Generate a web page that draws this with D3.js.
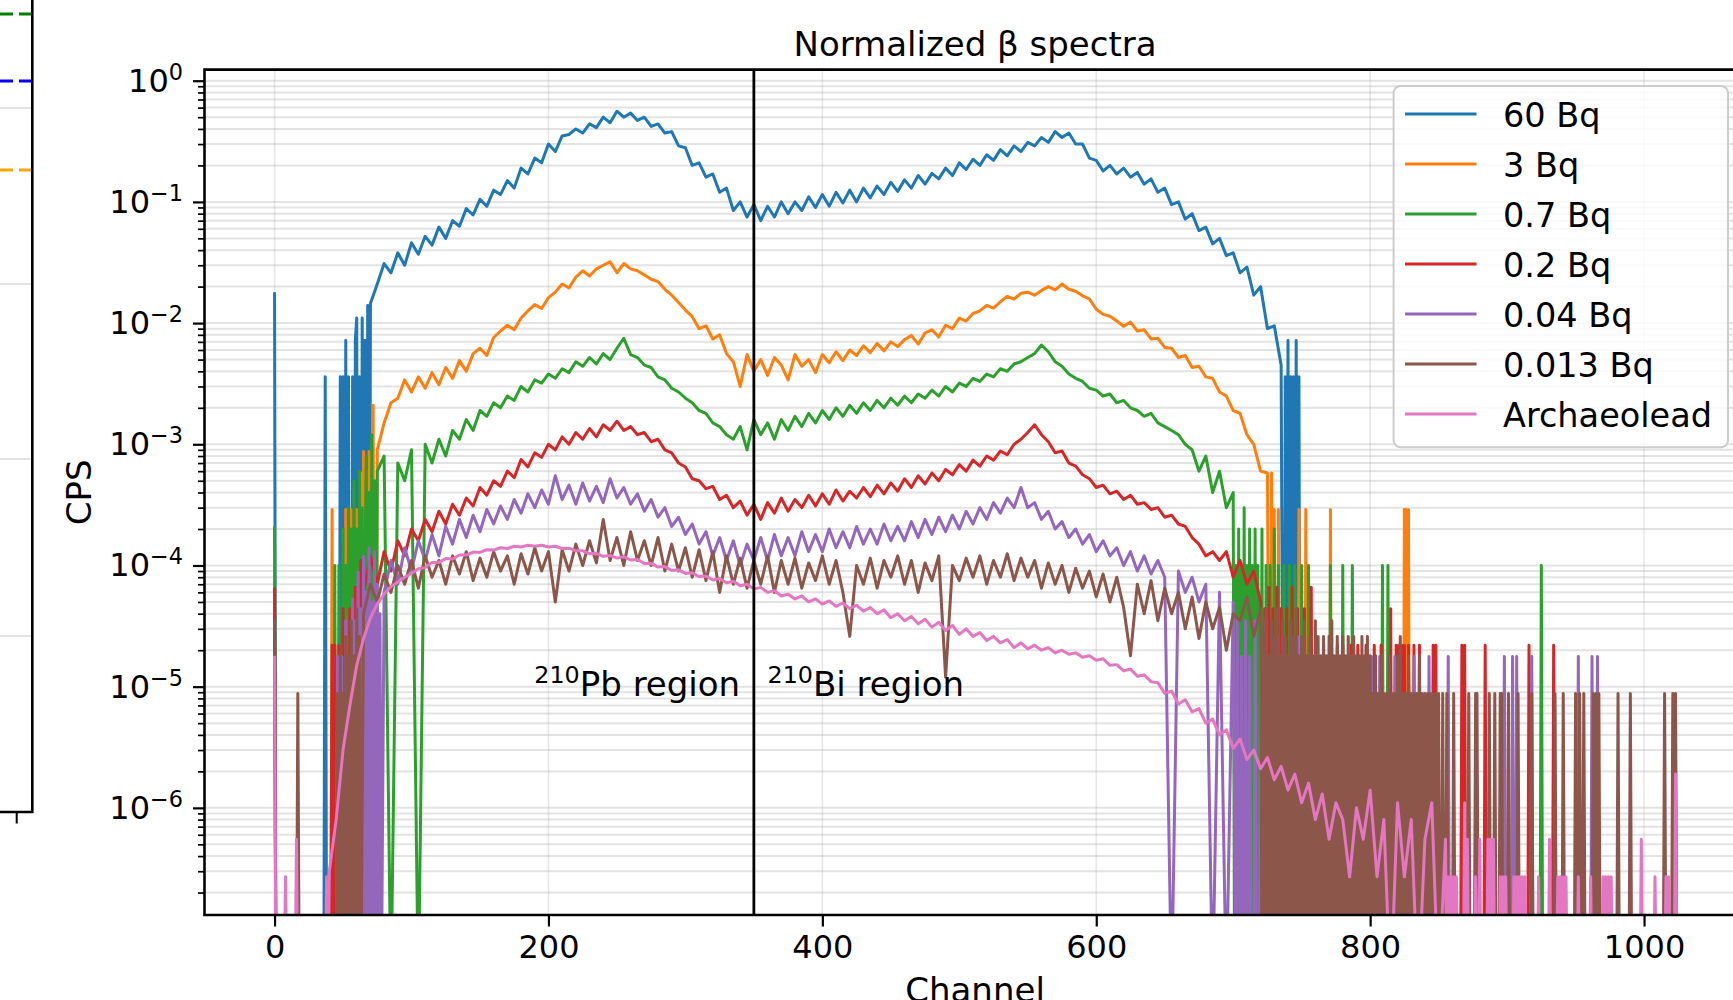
<!DOCTYPE html>
<html>
<head>
<meta charset="utf-8">
<script src="https://d3js.org/d3.v7.min.js"></script>
<style>
  body { margin: 0; background: #fff; }
  text { font-family: "DejaVu Sans", sans-serif; fill: #000; }
</style>
</head>
<body>
<svg width="1733" height="1000"></svg>
<script>
// ---- data (CPS), bodies sampled every 5 channels, spikes = isolated channels ----
const channelStep = 5;
const labels = ["60 Bq", "3 Bq", "0.7 Bq", "0.2 Bq", "0.04 Bq", "0.013 Bq", "Archaeolead"];
const xTicks = [0, 200, 400, 600, 800, 1000];
const yDecades = [1e0, 1e-1, 1e-2, 1e-3, 1e-4, 1e-5, 1e-6];
const regionLine = 350;

const bq60Start = 70;
const bq60Body = [
  0.0145,0.021,0.031,0.026,0.038,0.03,0.046,0.037,0.052,0.044,
  0.062,0.05,0.07,0.063,0.088,0.078,0.105,0.092,0.125,0.115,
  0.15,0.13,0.19,0.17,0.23,0.21,0.3,0.26,0.35,0.36,
  0.4,0.37,0.44,0.41,0.5,0.45,0.56,0.5,0.54,0.47,
  0.5,0.42,0.44,0.37,0.38,0.29,0.28,0.2,0.21,0.16,
  0.17,0.12,0.13,0.085,0.1,0.075,0.095,0.07,0.092,0.075,
  0.1,0.08,0.1,0.085,0.11,0.09,0.115,0.092,0.12,0.098,
  0.125,0.1,0.13,0.108,0.135,0.115,0.145,0.122,0.152,0.13,
  0.165,0.14,0.172,0.155,0.19,0.165,0.21,0.185,0.225,0.2,
  0.245,0.22,0.27,0.24,0.29,0.26,0.31,0.29,0.34,0.31,
  0.38,0.34,0.37,0.3,0.3,0.23,0.22,0.18,0.2,0.17,
  0.19,0.16,0.175,0.14,0.155,0.12,0.13,0.095,0.1,0.072,
  0.08,0.058,0.062,0.045,0.05,0.036,0.038,0.026,0.029,0.017,
  0.02,0.009,0.0095,0.0045
];
const bq60Spikes = [[0,0.018],[37,0.0036],[48,0.0036],[50,0.0036],[52,0.0072],[54,0.0036],[57,0.0036],
  [59,0.0072],[60,0.011],[62,0.0036],[64,0.011],[66,0.0072],[68,0.014],
  [738,0.0036],[740,0.0072],[742,0.0036],[744,0.0036],[746,0.0072],[748,0.0036]];

const bq3Start = 75;
const bq3Body = [
  0.0009,0.0015,0.0022,0.0024,0.0034,0.0027,0.0036,0.0029,0.0039,0.0031,
  0.0043,0.0035,0.0049,0.004,0.0056,0.0062,0.0054,0.0076,0.0086,0.0096,
  0.0088,0.011,0.0126,0.0142,0.0132,0.0162,0.018,0.021,0.0195,0.024,
  0.027,0.0245,0.028,0.03,0.032,0.026,0.031,0.028,0.027,0.025,
  0.023,0.022,0.019,0.017,0.0148,0.0128,0.0113,0.009,0.0095,0.0074,
  0.008,0.0056,0.0048,0.003,0.0055,0.004,0.005,0.0037,0.0052,0.0045,
  0.0034,0.0055,0.0044,0.005,0.0039,0.0055,0.0047,0.0058,0.0049,0.006,
  0.0054,0.0065,0.0057,0.0068,0.0059,0.007,0.0064,0.0073,0.0079,0.0067,
  0.0083,0.0088,0.0077,0.0096,0.009,0.011,0.0104,0.012,0.0126,0.014,
  0.0133,0.015,0.0166,0.0158,0.0176,0.018,0.017,0.0186,0.02,0.0188,
  0.021,0.019,0.0183,0.0168,0.0158,0.013,0.0118,0.0114,0.0104,0.0094,
  0.0102,0.0086,0.0088,0.0074,0.0075,0.0063,0.0062,0.0052,0.0054,0.0043,
  0.0044,0.0036,0.0035,0.0027,0.0025,0.0019,0.0018,0.0012,0.001,0.0006,
  0.00058
];
const bq3Spikes = [[42,2.9e-4],[52,2.9e-4],[56,2.9e-4],[60,2.9e-4],[63,5.8e-4],[65,8.7e-4],[67,5.8e-4],
  [69,8.7e-4],[71,5.8e-4],[72,2.1e-3],
  [728,5.8e-4],[730,2.9e-4],[733,2.9e-4],[748,2.9e-4],[753,2.9e-4],[771,2.9e-4],[825,2.9e-4],[826,2.9e-4],[828,2.9e-4]];

const bq07Start = 75;
const bq07Body = [
  0.0006,0.0008,0,0.0007,0.0005,0.0009,0,0.001,0.0007,0.0011,
  0.0008,0.0013,0.0011,0.0016,0.0013,0.0019,0.0017,0.0022,0.002,0.0025,
  0.0023,0.003,0.0027,0.0034,0.0032,0.0038,0.0035,0.0042,0.0039,0.0048,
  0.0044,0.0052,0.0046,0.0056,0.005,0.0062,0.0075,0.0055,0.0052,0.0045,
  0.0043,0.0036,0.0034,0.0029,0.0027,0.0024,0.0022,0.0019,0.0018,0.0015,
  0.0014,0.0012,0.0011,0.0014,0.0009,0.0016,0.0012,0.0015,0.0011,0.0016,
  0.0013,0.0017,0.0014,0.0018,0.0015,0.0019,0.0016,0.002,0.0017,0.0021,
  0.0018,0.0022,0.0019,0.0023,0.002,0.0024,0.0021,0.0025,0.0022,0.0026,
  0.0024,0.0028,0.0025,0.003,0.0027,0.0032,0.003,0.0035,0.0033,0.0038,
  0.0036,0.0042,0.004,0.0046,0.0048,0.0052,0.0056,0.0066,0.0058,0.0048,
  0.0044,0.0038,0.0035,0.0033,0.0029,0.0028,0.0025,0.0026,0.0022,0.0023,
  0.002,0.0019,0.0017,0.0018,0.0015,0.0014,0.0013,0.0012,0.001,0.0009,
  0.0006,0.0008,0.0004,0.0006,0.0003,0.0004
];
const bq07Spikes = [[0,2.1e-4],[44,1e-4],[47,1e-4],[50,2e-4],[52,1e-4],[54,3e-4],[56,2e-4],[58,5e-4],[60,2e-4],
  [62,6e-4],[64,3e-4],[66,1e-4],[67,8e-4],[69,4e-4],[71,1.2e-3],[73,5e-4],
  [702,1e-4],[704,2e-4],[706,1e-4],[708,3e-4],[710,1e-4],[712,2e-4],[714,1e-4],[716,2e-4],[718,1e-4],
  [721,2e-4],[724,1e-4],[727,1e-4],[730,2e-4],[733,1e-4],[737,1e-4],[741,1e-4],[745,1e-4],[750,1e-4],
  [755,1e-4],[771,1e-4],[780,1e-4],[787,1e-4],[809,1e-4],[813,1e-4],[925,1e-4]];

const bq02Start = 65;
const bq02Body = [
  6e-5,1.2e-4,7e-5,1.3e-4,9e-5,1.6e-4,1.2e-4,2e-4,1.6e-4,2.4e-4,
  1.9e-4,2.8e-4,2.2e-4,3.2e-4,2.6e-4,3.6e-4,3.1e-4,4.4e-4,3.8e-4,5e-4,
  4.5e-4,6e-4,5.3e-4,7.5e-4,6.5e-4,8.5e-4,7.8e-4,1e-3,9e-4,1.15e-3,
  1e-3,1.25e-3,1.1e-3,1.35e-3,1.15e-3,1.45e-3,1.3e-3,1.55e-3,1.3e-3,1.4e-3,
  1.2e-3,1.25e-3,1.05e-3,1.1e-3,9e-4,8.5e-4,7e-4,6.5e-4,5.2e-4,5e-4,
  4.3e-4,4.5e-4,3.5e-4,3.8e-4,3e-4,3.4e-4,2.6e-4,3.2e-4,2.4e-4,3.3e-4,
  2.7e-4,3.6e-4,2.8e-4,3.5e-4,3e-4,3.8e-4,3.1e-4,3.9e-4,3.2e-4,4.2e-4,
  3.4e-4,4.1e-4,3.6e-4,4.4e-4,3.7e-4,4.6e-4,3.9e-4,4.8e-4,4.1e-4,5.2e-4,
  4.4e-4,5.5e-4,4.7e-4,5.8e-4,5e-4,6.2e-4,5.6e-4,6.8e-4,6e-4,7.4e-4,
  6.6e-4,8e-4,7.4e-4,8.8e-4,8.2e-4,1e-3,1.1e-3,1.25e-3,1.45e-3,1.2e-3,
  1.05e-3,8.5e-4,8.8e-4,7e-4,6.6e-4,5.6e-4,5.2e-4,4.4e-4,4.6e-4,3.9e-4,
  4.1e-4,3.5e-4,3.8e-4,3.2e-4,3.3e-4,2.9e-4,3e-4,2.5e-4,2.6e-4,2.2e-4,
  2.1e-4,1.7e-4,1.5e-4,1.2e-4,1.3e-4,1.1e-4,1.3e-4,8e-5,1.1e-4,7e-5,
  9e-5,5e-5
];
const bq02Spikes = [[0,6.6e-5],[42,2.2e-5],[44,2.2e-5],[47,2.2e-5],[50,4.4e-5],[52,2.2e-5],[55,4.4e-5],[57,2.2e-5],
  [59,6.6e-5],[61,4.4e-5],[63,1.1e-4],
  [723,4.4e-5],[726,6.6e-5],[729,4.4e-5],[732,6.6e-5],[735,4.4e-5],[739,4.4e-5],[743,6.6e-5],[747,4.4e-5],
  [752,4.4e-5],[757,6.6e-5],[761,2.2e-5],[766,2.2e-5],[771,2.2e-5],[776,2.2e-5],[780,2.2e-5],[786,2.2e-5],
  [791,2.2e-5],[797,2.2e-5],[803,2.2e-5],[808,2.2e-5],[815,4.4e-5],[819,2.2e-5],[821,2.2e-5],[823,2.2e-5],
  [825,2.2e-5],[828,2.2e-5],[832,2.2e-5],[836,2.2e-5],[846,2.2e-5],[848,2.2e-5],[867,2.2e-5],[869,2.2e-5],
  [884,2.2e-5],[916,2.2e-5],[934,2.2e-5]];

const bq004Start = 80;
const bq004Body = [
  6e-5,1.1e-4,7e-5,1.4e-4,9e-5,1.6e-4,1.1e-4,1.8e-4,1.2e-4,2.1e-4,
  1.5e-4,2.4e-4,1.7e-4,2.6e-4,1.9e-4,2.9e-4,2.2e-4,3.1e-4,2.4e-4,3.5e-4,
  2.7e-4,3.9e-4,3e-4,4.2e-4,3.2e-4,5.5e-4,3.5e-4,4.6e-4,3.2e-4,4.8e-4,
  3.4e-4,4.5e-4,3.3e-4,5.2e-4,3.6e-4,4.4e-4,3.2e-4,3.9e-4,2.8e-4,3.5e-4,
  2.5e-4,3e-4,2.1e-4,2.5e-4,1.8e-4,2.2e-4,1.5e-4,1.9e-4,1.2e-4,1.7e-4,
  1.1e-4,1.6e-4,1e-4,1.5e-4,1.1e-4,1.7e-4,1.1e-4,1.8e-4,1.2e-4,1.7e-4,
  1.2e-4,1.9e-4,1.3e-4,1.8e-4,1.3e-4,2e-4,1.4e-4,1.9e-4,1.4e-4,2.1e-4,
  1.5e-4,2e-4,1.5e-4,2.2e-4,1.6e-4,2.1e-4,1.6e-4,2.3e-4,1.7e-4,2.4e-4,
  1.8e-4,2.5e-4,1.9e-4,2.6e-4,2e-4,2.8e-4,2.2e-4,3e-4,2.4e-4,3.3e-4,
  2.7e-4,3.6e-4,3e-4,4.4e-4,3e-4,3.3e-4,2.4e-4,2.8e-4,2e-4,2.3e-4,
  1.7e-4,2e-4,1.5e-4,1.8e-4,1.3e-4,1.6e-4,1.2e-4,1.4e-4,1e-4,1.3e-4,
  9e-5,1.2e-4,8.5e-5,1.1e-4,8e-5,0,9e-5,6e-5,8e-5,5e-5,
  7e-5,0,6e-5,0,5e-5
];
const bq004Spikes = [[46,1.77e-5],[49,1.77e-5],[52,3.5e-5],[55,1.77e-5],[57,5.3e-5],[59,3.5e-5],[61,8.8e-5],
  [63,4.4e-5],[65,1.2e-4],[67,6e-5],[69,1.4e-4],[71,5e-5],[73,1.3e-4],[75,7e-5],[77,4e-5],
  [703,3.5e-5],[706,1.77e-5],[709,3.5e-5],[712,1.77e-5],[716,3.5e-5],[720,1.77e-5],[724,3.5e-5],[728,1.77e-5],
  [732,2.6e-5],[737,1.77e-5],[742,1.77e-5],[747,2.6e-5],[752,1.77e-5],[758,1.77e-5],[764,1.77e-5],[770,1.77e-5],
  [777,1.77e-5],[785,1.77e-5],[794,1.77e-5],[801,1.77e-5],[807,1.77e-5],[818,1.77e-5],[832,1.77e-5],
  [843,1.77e-5],[857,1.77e-5],[898,1.77e-5],[904,1.77e-5],[907,1.77e-5],[918,1.77e-5],[952,1.77e-5],
  [962,1.77e-5],[966,1.77e-5]];

const bq0013Start = 65;
const bq0013Body = [
  4e-5,7e-5,5e-5,8.5e-5,6e-5,1e-4,7e-5,1.1e-4,6.5e-5,1.2e-4,
  8e-5,1.1e-4,7e-5,1.2e-4,8.5e-5,1.3e-4,7.5e-5,1.15e-4,8e-5,1.3e-4,
  9e-5,1.2e-4,7e-5,1.25e-4,8.5e-5,1.4e-4,9e-5,1.3e-4,5e-5,1.35e-4,
  9e-5,1.5e-4,1e-4,1.6e-4,1.05e-4,2.4e-4,1.1e-4,1.7e-4,1e-4,1.9e-4,
  1.1e-4,1.6e-4,1e-4,1.7e-4,9e-5,1.5e-4,9e-5,1.4e-4,8e-5,1.35e-4,
  7.5e-5,1.3e-4,6e-5,1.2e-4,7e-5,1.15e-4,6.5e-5,1.1e-4,7e-5,1.2e-4,
  6e-5,1.1e-4,7e-5,1.15e-4,6.5e-5,1.05e-4,7.5e-5,1.2e-4,7e-5,1.1e-4,
  6e-5,2.6e-5,1e-4,7e-5,1.15e-4,6.5e-5,1.1e-4,8e-5,1.2e-4,7e-5,
  1.1e-4,6e-5,1.05e-4,7.5e-5,1.2e-4,1.2e-5,1e-4,7.5e-5,1.15e-4,8e-5,
  1.2e-4,7e-5,1.1e-4,8e-5,1.25e-4,7.5e-5,1.15e-4,8e-5,1.1e-4,6.5e-5,
  1.05e-4,7e-5,1e-4,6e-5,9.5e-5,6.5e-5,9e-5,5.5e-5,8.5e-5,5e-5,
  8e-5,4.5e-5,1.8e-5,7e-5,4e-5,7.5e-5,3.5e-5,6.5e-5,4e-5,6e-5,
  3e-5,5.5e-5,2.5e-5,5e-5,3e-5,4.5e-5,2e-5,4e-5,3.5e-5,5.5e-5,
  2.6e-5,4.4e-5
];
const bq0013Spikes = [[0,3.6e-5],[17,8.8e-6],[46,8.8e-6],[48,1.8e-5],[50,8.8e-6],[52,2.6e-5],[54,1.8e-5],
  [56,3.5e-5],[58,1.8e-5],[60,4.4e-5],[62,2.6e-5],
  [722,2.6e-5],[724,4.4e-5],[726,1.8e-5],[728,3.5e-5],[730,2.6e-5],[732,4.4e-5],[734,1.8e-5],[736,3.5e-5],
  [738,2.6e-5],[740,1.8e-5],[742,3.5e-5],[744,2.6e-5],[746,4.4e-5],[748,1.8e-5],[750,2.6e-5],[752,3.5e-5],
  [754,1.8e-5],[756,2.6e-5],[758,1.8e-5],[760,3.5e-5],[762,2.6e-5],[764,1.8e-5],[766,2.6e-5],[768,1.8e-5],
  [770,2.6e-5],[772,3.5e-5],[774,1.8e-5],[776,2.6e-5],[778,1.8e-5],[780,2.6e-5],[782,1.8e-5],[784,2.6e-5],
  [786,1.8e-5],[788,2.6e-5],[790,1.8e-5],[792,1.8e-5],[794,2.6e-5],[796,1.8e-5],[798,2.6e-5],[800,1.8e-5],
  [802,8.8e-6],[804,1.8e-5],[806,8.8e-6],[808,1.8e-5],[810,8.8e-6],[812,8.8e-6],[814,1.8e-5],[816,8.8e-6],
  [818,8.8e-6],[820,1.8e-5],[822,2.6e-5],[824,8.8e-6],[826,8.8e-6],[828,1.8e-5],[830,8.8e-6],[832,8.8e-6],
  [834,8.8e-6],[836,1.8e-5],[838,8.8e-6],[840,8.8e-6],[842,8.8e-6],[844,8.8e-6],[846,8.8e-6],[848,8.8e-6],
  [850,8.8e-6],[853,8.8e-6],[856,8.8e-6],[861,8.8e-6],[872,8.8e-6],[877,8.8e-6],[878,8.8e-6],[887,8.8e-6],
  [891,8.8e-6],[895,8.8e-6],[896,8.8e-6],[901,8.8e-6],[908,8.8e-6],[918,8.8e-6],[935,8.8e-6],[941,8.8e-6],
  [950,8.8e-6],[953,8.8e-6],[956,8.8e-6],[963,8.8e-6],[965,8.8e-6],[967,8.8e-6],[981,8.8e-6],[990,8.8e-6],
  [1015,8.8e-6],[1021,8.8e-6],[1023,8.8e-6]];

const archaeoStart = 40;
const archaeoBody = [
  3e-7,8e-7,3e-6,7e-6,1.5e-5,2.5e-5,3.7e-5,4.8e-5,5.8e-5,6.7e-5,
  7.3e-5,8e-5,8.6e-5,9.4e-5,9.6e-5,1.06e-4,1.06e-4,1.14e-4,1.13e-4,1.22e-4,
  1.22e-4,1.29e-4,1.28e-4,1.35e-4,1.34e-4,1.4e-4,1.38e-4,1.44e-4,1.42e-4,1.47e-4,
  1.44e-4,1.47e-4,1.42e-4,1.44e-4,1.38e-4,1.39e-4,1.32e-4,1.32e-4,1.25e-4,1.26e-4,
  1.19e-4,1.21e-4,1.15e-4,1.18e-4,1.11e-4,1.12e-4,1.04e-4,1.04e-4,9.7e-5,9.8e-5,
  9.1e-5,9.2e-5,8.6e-5,8.7e-5,8.1e-5,8.2e-5,7.6e-5,7.8e-5,7.2e-5,7.4e-5,
  6.8e-5,7e-5,6.4e-5,6.6e-5,6e-5,6.2e-5,5.6e-5,5.8e-5,5.3e-5,5.6e-5,
  5e-5,5.3e-5,4.8e-5,5.1e-5,4.6e-5,4.9e-5,4.4e-5,4.7e-5,4.2e-5,4.5e-5,
  4e-5,4.3e-5,3.7e-5,4e-5,3.5e-5,3.8e-5,3.3e-5,3.6e-5,3.1e-5,3.4e-5,
  2.9e-5,3.2e-5,2.7e-5,3e-5,2.6e-5,2.8e-5,2.4e-5,2.6e-5,2.3e-5,2.45e-5,
  2.1e-5,2.3e-5,2.05e-5,2.2e-5,2e-5,2.1e-5,1.9e-5,2e-5,1.85e-5,1.9e-5,
  1.75e-5,1.8e-5,1.65e-5,1.7e-5,1.5e-5,1.52e-5,1.35e-5,1.4e-5,1.22e-5,1.25e-5,
  1.1e-5,1.08e-5,8.8e-6,9.2e-6,7.2e-6,7.8e-6,6.2e-6,6.6e-6,5e-6,5.4e-6,
  4e-6,4.4e-6,3.1e-6,3.7e-6,2.5e-6,3e-6,2.1e-6,2.6e-6,1.7e-6,2.2e-6,
  1.4e-6,1.9e-6,1.1e-6,1.6e-6,8e-7,1.3e-6,5.5e-7,1.1e-6,8e-7,2.7e-7,
  1e-6,5.5e-7,1.4e-6,2.7e-7,8e-7,0,1.1e-6,2.7e-7,8e-7,0,
  5.5e-7,1.1e-6,0,5.5e-7
];
const archaeoSpikes = [[0,1.8e-5],[8,2.7e-7],[16,5.5e-7],[38,2.7e-7],
  [857,2.7e-7],[859,2.7e-7],[861,2.7e-7],[863,2.7e-7],[869,1.1e-6],[871,5.5e-7],[877,2.7e-7],[880,5.5e-7],
  [886,5.5e-7],[888,5.5e-7],[890,5.5e-7],[895,2.7e-7],[897,2.7e-7],[899,2.7e-7],[905,2.7e-7],[907,2.7e-7],
  [909,2.7e-7],[911,2.7e-7],[913,2.7e-7],[923,2.7e-7],[931,5.5e-7],[937,2.7e-7],[939,2.7e-7],[941,2.7e-7],
  [943,2.7e-7],[952,2.7e-7],[961,2.7e-7],[970,2.7e-7],[972,2.7e-7],[974,2.7e-7],[976,2.7e-7],[998,5.5e-7],
  [1008,2.7e-7],[1016,2.7e-7],[1018,2.7e-7],[1023,1.9e-6]];

const colors = ["#1f77b4", "#ff7f0e", "#2ca02c", "#d62728", "#9467bd", "#8c564b", "#e377c2"];
const series = [
  {start: bq60Start, body: bq60Body, spikes: bq60Spikes},
  {start: bq3Start, body: bq3Body, spikes: bq3Spikes},
  {start: bq07Start, body: bq07Body, spikes: bq07Spikes},
  {start: bq02Start, body: bq02Body, spikes: bq02Spikes},
  {start: bq004Start, body: bq004Body, spikes: bq004Spikes},
  {start: bq0013Start, body: bq0013Body, spikes: bq0013Spikes},
  {start: archaeoStart, body: archaeoBody, spikes: archaeoSpikes}
].map((s, i) => ({...s, label: labels[i], color: colors[i]}));

// channels that are not listed hold zero counts: put a zero next to each spike
function buildPoints(s) {
  const pts = s.body.map((v, i) => ({c: s.start + i * channelStep, v, spike: false}));
  s.spikes.forEach(([c, v]) => pts.push({c, v, spike: true}));
  pts.sort((a, b) => a.c - b.c);
  const out = [];
  pts.forEach((p, i) => {
    const prev = pts[i - 1];
    if (!prev && p.spike && p.c > 0) out.push({c: p.c - 1, v: 0});
    if (prev && p.c - prev.c > 1) {
      const z1 = prev.spike && prev.v > 0 ? prev.c + 1 : null;
      const z2 = p.spike && p.v > 0 ? p.c - 1 : null;
      if (z1 !== null) out.push({c: z1, v: 0});
      if (z2 !== null && z2 !== z1) out.push({c: z2, v: 0});
    }
    out.push(p);
  });
  const last = pts[pts.length - 1];
  if (last.spike) out.push({c: last.c + 1, v: 0});
  return out;
}

// ---- layout ----
const svg = d3.select("svg");
const plot = {left: 204.5, top: 69.6, right: 1745.6, bottom: 915};
const fontTick = 32, fontLabel = 34, fontLegend = 33.5;

const x = d3.scaleLinear().domain([-51.15, 1074.15]).range([plot.left, plot.right]);
const y = d3.scaleLog().domain([1.306e-7, 1.235]).range([plot.bottom, plot.top]);

svg.append("rect").attr("width", 1733).attr("height", 1000).attr("fill", "#fff");

// left neighbour panel (cut off by the picture edge)
const leftPanel = svg.append("g");
[108, 284, 459, 636].forEach(gy => leftPanel.append("line")
  .attr("x1", 0).attr("x2", 32).attr("y1", gy).attr("y2", gy)
  .attr("stroke", "#b0b0b0").attr("stroke-opacity", 0.35).attr("stroke-width", 2));
[["#008000", 14], ["#0000ff", 81], ["#ffa500", 170]].forEach(([c, gy]) => leftPanel.append("line")
  .attr("x1", 32).attr("x2", 0).attr("y1", gy).attr("y2", gy)
  .attr("stroke", c).attr("stroke-width", 3.2).attr("stroke-dasharray", "13,6"));
leftPanel.append("path").attr("d", "M32.3,0V812H0").attr("fill", "none")
  .attr("stroke", "#000").attr("stroke-width", 2.6);
leftPanel.append("line").attr("x1", 16.7).attr("x2", 16.7).attr("y1", 812).attr("y2", 823.5)
  .attr("stroke", "#000").attr("stroke-width", 2);

// grid
const minors = [];
for (let e = -7; e <= 0; e++) for (let m = 2; m <= 9; m++) {
  const v = m * Math.pow(10, e);
  if (v >= y.domain()[0] && v <= y.domain()[1]) minors.push(v);
}
const grid = svg.append("g");
grid.selectAll(".hg").data(yDecades.concat(minors)).join("line")
  .attr("x1", plot.left).attr("x2", plot.right)
  .attr("y1", d => y(d)).attr("y2", d => y(d))
  .attr("stroke", "#b0b0b0").attr("stroke-opacity", 0.35).attr("stroke-width", 2);
grid.selectAll(".vg").data(xTicks).join("line")
  .attr("x1", d => x(d)).attr("x2", d => x(d))
  .attr("y1", plot.top).attr("y2", plot.bottom)
  .attr("stroke", "#b0b0b0").attr("stroke-opacity", 0.3).attr("stroke-width", 1.6);

// series
svg.append("clipPath").attr("id", "clip").append("rect")
  .attr("x", plot.left).attr("y", plot.top)
  .attr("width", plot.right - plot.left).attr("height", plot.bottom - plot.top);
const line = d3.line()
  .x(d => x(d.c))
  .y(d => d.v > 0 ? y(d.v) : plot.bottom + 80);
const dataG = svg.append("g").attr("clip-path", "url(#clip)");
series.forEach(s => {
  dataG.append("path")
    .attr("d", line(buildPoints(s)))
    .attr("fill", "none")
    .attr("stroke", s.color)
    .attr("stroke-width", 3)
    .attr("stroke-linejoin", "round");
});

// region divider
dataG.append("line")
  .attr("x1", x(regionLine)).attr("x2", x(regionLine))
  .attr("y1", plot.top).attr("y2", plot.bottom)
  .attr("stroke", "#000").attr("stroke-width", 2.8);

function supText(sel, sup, main, supFirst, size) {
  const parts = supFirst ? [[sup, true], [main, false]] : [[main, false], [sup, true]];
  let up = false;
  parts.forEach(([t, isSup]) => {
    const ts = sel.append("tspan").text(t);
    if (isSup) { ts.attr("font-size", size * 0.7).attr("dy", -size * 0.38); up = true; }
    else { ts.attr("font-size", size).attr("dy", up ? size * 0.38 : 0); up = false; }
  });
}

const regionY = y(1e-5) + 9.5;
supText(svg.append("text").attr("x", x(340)).attr("y", regionY).attr("text-anchor", "end"),
  "210", "Pb region", true, 34);
supText(svg.append("text").attr("x", x(360)).attr("y", regionY).attr("text-anchor", "start"),
  "210", "Bi region", true, 34);

// axes
const xAxis = svg.append("g").attr("transform", `translate(0,${plot.bottom})`)
  .call(d3.axisBottom(x).tickValues(xTicks).tickSize(11.5).tickPadding(9).tickFormat(d3.format("d")));
xAxis.select(".domain").remove();
xAxis.selectAll("line").attr("stroke-width", 2.2);
xAxis.selectAll("text").attr("font-size", fontTick).attr("font-family", "DejaVu Sans").attr("fill", "#000");

const yMinor = svg.append("g").attr("transform", `translate(${plot.left},0)`)
  .call(d3.axisLeft(y).tickValues(minors).tickSize(6.5).tickFormat(""));
yMinor.select(".domain").remove();
yMinor.selectAll("line").attr("stroke-width", 1.7);

const yAxis = svg.append("g").attr("transform", `translate(${plot.left},0)`)
  .call(d3.axisLeft(y).tickValues(yDecades).tickSize(11.5).tickFormat(""));
yAxis.select(".domain").remove();
yAxis.selectAll("line").attr("stroke-width", 2.2);
yAxis.selectAll(".tick text").remove();
yAxis.selectAll(".tick").each(function(d) {
  const e = Math.round(Math.log10(d));
  const t = d3.select(this).append("text")
    .attr("x", -21.5).attr("y", 10.5).attr("text-anchor", "end");
  supText(t, e === 0 ? "0" : "\u2212" + Math.abs(e), "10", false, fontTick);
});

// spines
svg.append("path")
  .attr("d", `M${plot.left},${plot.top}H${plot.right}V${plot.bottom}H${plot.left}Z`)
  .attr("fill", "none").attr("stroke", "#000").attr("stroke-width", 2.6);

// titles
svg.append("text").attr("x", (plot.left + plot.right) / 2).attr("y", 55.5)
  .attr("text-anchor", "middle").attr("font-size", fontLabel).text("Normalized \u03b2 spectra");
svg.append("text").attr("x", (plot.left + plot.right) / 2).attr("y", 1002)
  .attr("text-anchor", "middle").attr("font-size", fontLabel).text("Channel");
svg.append("text").attr("transform", `translate(90.5,${(plot.top + plot.bottom) / 2}) rotate(-90)`)
  .attr("text-anchor", "middle").attr("font-size", fontLabel).text("CPS");

// legend
const lg = svg.append("g");
lg.append("rect").attr("x", 1393.6).attr("y", 86).attr("width", 334.4).attr("height", 361.3)
  .attr("rx", 7).attr("fill", "#fff").attr("fill-opacity", 0.8)
  .attr("stroke", "#cccccc").attr("stroke-width", 2);
series.forEach((s, i) => {
  const cy = 114 + 50 * i;
  lg.append("line").attr("x1", 1405).attr("x2", 1476.5).attr("y1", cy).attr("y2", cy)
    .attr("stroke", s.color).attr("stroke-width", 3);
  lg.append("text").attr("x", 1503).attr("y", cy + 12.5).attr("font-size", fontLegend).text(s.label);
});
</script>
</body>
</html>
